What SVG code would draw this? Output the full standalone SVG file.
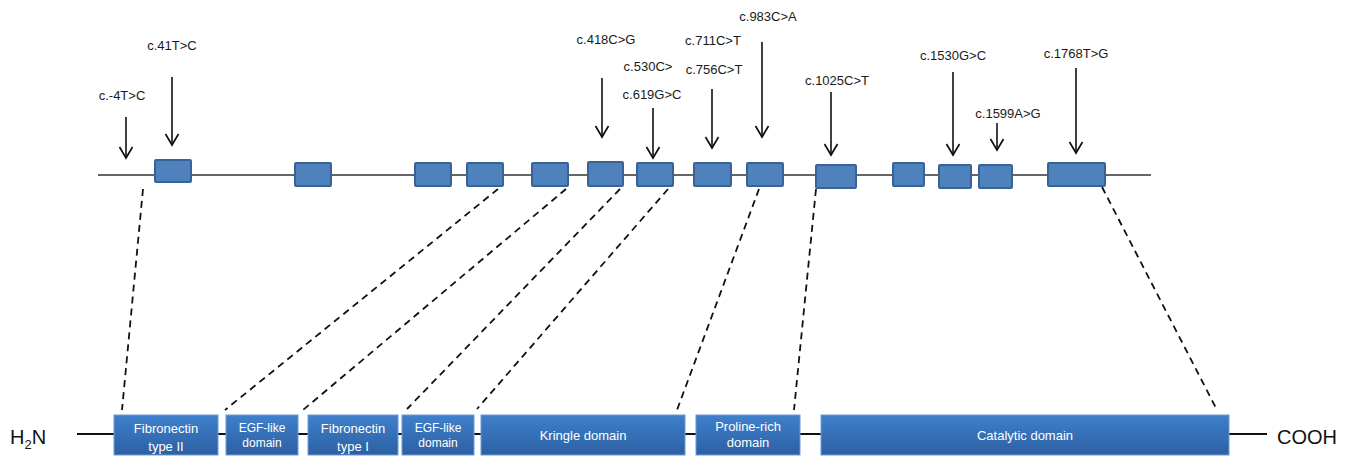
<svg xmlns="http://www.w3.org/2000/svg" width="1351" height="456" viewBox="0 0 1351 456">
<defs>
<linearGradient id="dg" x1="0" y1="0" x2="0" y2="1">
<stop offset="0" stop-color="#3f80cc"/>
<stop offset="1" stop-color="#2c60a2"/>
</linearGradient>
<marker id="ah" viewBox="-13 -8 15 16" markerWidth="15" markerHeight="16" refX="0" refY="0" orient="auto" markerUnits="userSpaceOnUse">
<path d="M-11,-6.5 L0,0 L-11,6.5" fill="none" stroke="#111" stroke-width="1.7"/>
</marker>
<style>
.lbl{font-family:"Liberation Sans",Arial,sans-serif;font-size:13px;fill:#1a1a1a;text-anchor:middle}
.exon{fill:#4f81bd;stroke:#3a6395;stroke-width:2}
.dom{fill:url(#dg);stroke:#6d9bd6;stroke-width:1}
.dt{font-family:"Liberation Sans",Arial,sans-serif;font-size:13px;fill:#fff;text-anchor:middle}
.dts{font-family:"Liberation Sans",Arial,sans-serif;font-size:12px;fill:#fff;text-anchor:middle}
.term{font-family:"Liberation Sans",Arial,sans-serif;font-size:20px;fill:#111}
.arr{stroke:#111;stroke-width:1.6;fill:none;marker-end:url(#ah)}
.dash{stroke:#111;stroke-width:1.8;stroke-dasharray:7 5;fill:none}
</style>
</defs>
<rect width="1351" height="456" fill="#fff"/>

<g id="backbone">
<line x1="98" y1="175" x2="1151" y2="175" stroke="#333" stroke-width="1.5"/>
<line x1="77" y1="434" x2="1267" y2="434" stroke="#111" stroke-width="2"/>
</g>

<g id="connectors">
<line class="dash" x1="143" y1="189" x2="122" y2="410"/>
<line class="dash" x1="498" y1="189" x2="225" y2="410"/>
<line class="dash" x1="566" y1="189" x2="303" y2="410"/>
<line class="dash" x1="620" y1="189" x2="407" y2="409"/>
<line class="dash" x1="668" y1="189" x2="477" y2="409"/>
<line class="dash" x1="759" y1="189" x2="677" y2="410"/>
<line class="dash" x1="816" y1="189" x2="794" y2="410"/>
<line class="dash" x1="1102" y1="187" x2="1217" y2="410"/>
<line class="arr" x1="126" y1="117" x2="126" y2="158"/>
<line class="arr" x1="172" y1="77" x2="172" y2="145"/>
<line class="arr" x1="602" y1="78" x2="602" y2="137"/>
<line class="arr" x1="653" y1="108" x2="653" y2="158"/>
<line class="arr" x1="712" y1="89" x2="712" y2="148"/>
<line class="arr" x1="762" y1="42" x2="762" y2="137"/>
<line class="arr" x1="831" y1="92" x2="831" y2="155"/>
<line class="arr" x1="953" y1="72" x2="953" y2="155"/>
<line class="arr" x1="997" y1="123" x2="997" y2="150"/>
<line class="arr" x1="1076" y1="68" x2="1076" y2="153"/>
</g>

<g id="exons">
<rect class="exon" x="155" y="160" width="36" height="22" rx="1"/>
<rect class="exon" x="295" y="163" width="36" height="23" rx="1"/>
<rect class="exon" x="415" y="163" width="36" height="23" rx="1"/>
<rect class="exon" x="467" y="163" width="36" height="23" rx="1"/>
<rect class="exon" x="532" y="163" width="36" height="23" rx="1"/>
<rect class="exon" x="588" y="162" width="35" height="24" rx="1"/>
<rect class="exon" x="637" y="163" width="36" height="23" rx="1"/>
<rect class="exon" x="694" y="163" width="37" height="23" rx="1"/>
<rect class="exon" x="747" y="163" width="36" height="23" rx="1"/>
<rect class="exon" x="816" y="165" width="40" height="23" rx="1"/>
<rect class="exon" x="893" y="163" width="31" height="23" rx="1"/>
<rect class="exon" x="939" y="165" width="32" height="23" rx="1"/>
<rect class="exon" x="979" y="165" width="33" height="23" rx="1"/>
<rect class="exon" x="1048" y="163" width="57" height="23" rx="1"/>
</g>

<g id="mutation-labels">
<text class="lbl" x="122" y="100">c.-4T&gt;C</text>
<text class="lbl" x="172" y="50">c.41T&gt;C</text>
<text class="lbl" x="606" y="44">c.418C&gt;G</text>
<text class="lbl" x="648" y="71">c.530C&gt;</text>
<text class="lbl" x="652" y="99">c.619G&gt;C</text>
<text class="lbl" x="713" y="45">c.711C&gt;T</text>
<text class="lbl" x="714" y="74">c.756C&gt;T</text>
<text class="lbl" x="768" y="21">c.983C&gt;A</text>
<text class="lbl" x="837" y="85">c.1025C&gt;T</text>
<text class="lbl" x="953" y="60">c.1530G&gt;C</text>
<text class="lbl" x="1008" y="118">c.1599A&gt;G</text>
<text class="lbl" x="1076" y="58">c.1768T&gt;G</text>
</g>

<g id="terminus-n">
<text class="term" x="10" y="444">H<tspan font-size="13" dy="5">2</tspan><tspan dy="-5">N</tspan></text>
</g>
<g id="terminus-c">
<text class="term" x="1277" y="444">COOH</text>
</g>

<g id="dom-fn2">
<rect class="dom" x="114" y="415" width="104" height="40"/>
<text class="dt" x="166" y="433">Fibronectin</text>
<text class="dt" x="166" y="451">type II</text>
</g>
<g id="dom-egf1">
<rect class="dom" x="226" y="415" width="72" height="40"/>
<text class="dts" x="262" y="432">EGF-like</text>
<text class="dts" x="262" y="447">domain</text>
</g>
<g id="dom-fn1">
<rect class="dom" x="308" y="415" width="90" height="40"/>
<text class="dt" x="353" y="433">Fibronectin</text>
<text class="dt" x="353" y="451">type I</text>
</g>
<g id="dom-egf2">
<rect class="dom" x="402" y="415" width="72" height="40"/>
<text class="dts" x="438" y="432">EGF-like</text>
<text class="dts" x="438" y="447">domain</text>
</g>
<g id="dom-kringle">
<rect class="dom" x="481" y="415" width="204" height="40"/>
<text class="dt" x="583" y="440">Kringle domain</text>
</g>
<g id="dom-proline">
<rect class="dom" x="696" y="415" width="104" height="40"/>
<text class="dt" x="748" y="431">Proline-rich</text>
<text class="dt" x="748" y="447">domain</text>
</g>
<g id="dom-catalytic">
<rect class="dom" x="821" y="415" width="408" height="40"/>
<text class="dt" x="1025" y="440">Catalytic domain</text>
</g>
</svg>
